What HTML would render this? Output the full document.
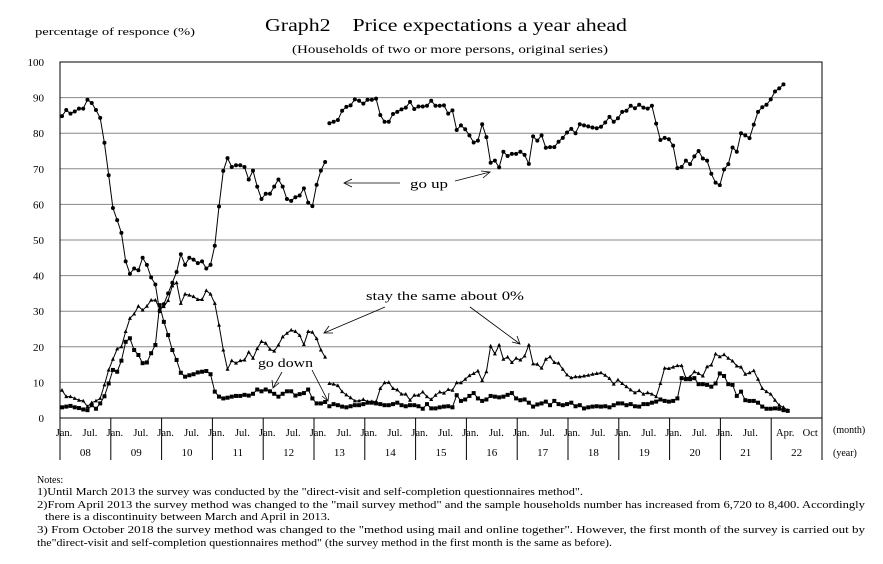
<!DOCTYPE html>
<html><head><meta charset="utf-8">
<style>
body{margin:0;background:#fff;}
svg text{font-family:"Liberation Serif","Noto Serif CJK SC",serif;fill:#000;}
</style></head>
<body>
<svg id="chart" width="883" height="559" viewBox="0 0 883 559" xmlns="http://www.w3.org/2000/svg">
<text x="265" y="31" font-size="18" textLength="362" lengthAdjust="spacingAndGlyphs">Graph2　Price expectations a year ahead</text>
<text x="292" y="53" font-size="11.5" textLength="316" lengthAdjust="spacingAndGlyphs">(Households of two or more persons, original series)</text>
<text x="35" y="35" font-size="11" textLength="160" lengthAdjust="spacingAndGlyphs">percentage of responce (%)</text>
<g id="grid"></g>
<g id="yticks"></g>
<g id="series"></g>
<rect x="60" y="62" width="762" height="356" fill="none" stroke="#000" stroke-width="1"/>
<g id="xaxis"></g>
<text x="833" y="433" font-size="10">(month)</text>
<text x="833" y="456" font-size="10">(year)</text>
<g font-size="13">
<text x="410" y="188" textLength="38" lengthAdjust="spacingAndGlyphs">go up</text>
<line x1="400" y1="183" x2="344" y2="183" stroke="#000" stroke-width="0.8"/>
<polyline points="352,179 344,183 352,187" fill="none" stroke="#000" stroke-width="0.8"/>
<line x1="455" y1="181" x2="490" y2="172" stroke="#000" stroke-width="0.8"/>
<polyline points="481,171 490,172 483,178" fill="none" stroke="#000" stroke-width="0.8"/>
<text x="366" y="300" textLength="158" lengthAdjust="spacingAndGlyphs">stay the same about 0%</text>
<line x1="385" y1="307" x2="324" y2="333" stroke="#000" stroke-width="0.8"/>
<polyline points="329,326 324,333 333,333" fill="none" stroke="#000" stroke-width="0.8"/>
<line x1="470" y1="307" x2="520" y2="344" stroke="#000" stroke-width="0.8"/>
<polyline points="512,342 520,344 517,336" fill="none" stroke="#000" stroke-width="0.8"/>
<text x="258" y="367" textLength="55" lengthAdjust="spacingAndGlyphs">go down</text>
<line x1="282" y1="372" x2="273" y2="388" stroke="#000" stroke-width="0.8"/>
<polyline points="272,380 273,388 279,383" fill="none" stroke="#000" stroke-width="0.8"/>
<line x1="312" y1="370" x2="328" y2="401" stroke="#000" stroke-width="0.8"/>
<polyline points="322,396 328,401 329,393" fill="none" stroke="#000" stroke-width="0.8"/>
</g>
<g font-size="10">
<text x="37" y="483">Notes:</text>
<text x="37" y="495" textLength="546" lengthAdjust="spacingAndGlyphs">1)Until March 2013 the survey was conducted by the "direct-visit and self-completion questionnaires method".</text>
<text x="37" y="508" textLength="828" lengthAdjust="spacingAndGlyphs">2)From April 2013 the survey method was changed to the "mail survey method" and the sample households number has increased from 6,720 to 8,400. Accordingly</text>
<text x="45" y="520" textLength="285" lengthAdjust="spacingAndGlyphs">there is a discontinuity between March and April in 2013.</text>
<text x="37" y="533" textLength="828" lengthAdjust="spacingAndGlyphs">3) From October 2018 the survey method was changed to the "method using mail and online together". However, the first month of the survey is carried out by</text>
<text x="37" y="546" textLength="575" lengthAdjust="spacingAndGlyphs">the"direct-visit and self-completion questionnaires method" (the survey method in the first month is the same as before).</text>
</g>
</svg>
<script>
const yTicks=[0,10,20,30,40,50,60,70,80,90,100];
const years=["08","09","10","11","12","13","14","15","16","17","18","19","20","21","22"];
const goUp=[84.8,86.5,85.5,86.1,86.9,86.9,89.4,88.5,86.5,84.3,77.3,68.2,
59,55.6,52,44,40.5,42,41.5,45,43,39.5,37.5,30,32,35,38,41,
46,43,45,44.5,43.5,44,42,43,48.4,59.4,69.4,73,
70.5,71,71,70.5,67,69.5,65,61.5,63,63,65,67,65,61.5,61,62,62.5,64.5,60.5,59.5,65.5,69.5,71.9,
82.8,83.2,83.7,86.3,87.4,87.8,89.5,89.1,88.3,89.4,89.4,89.7,85.1,83.2,83.2,85.4,86,86.7,87.2,88.8,86.8,87.5,87.5,87.7,89.1,87.7,87.7,87.8,85.5,86.4,80.9,82.2,81.1,79.4,77.4,77.9,82.5,78.9,71.7,72.3,70.4,74.8,73.6,74.2,74.2,74.8,73.9,71.4,79.1,77.9,79.4,75.9,76.1,76.1,77.6,78.7,80.2,81.2,80,
82.5,82.2,81.9,81.6,81.4,81.8,83,84.6,83.2,84.2,86,86.3,87.7,87,88,87.2,86.9,87.7,82.7,78.1,78.7,78.3,76.5,70.2,70.5,72.3,71.3,73.5,75,72.9,72.3,68.6,66.1,65.4,69.8,71.3,76,74.8,80,79.4,78.6,82.4,86,87.3,88,89.5,91.7,92.6,93.7];
const staySame=[7.8,6,6,5.5,5,4.8,3.2,4.3,4.8,5.5,9.3,13.5,16.5,19.4,20,24.3,28,29.2,31.4,30.3,31.4,33.1,33.1,30.8,31.3,33,37.1,38,32.2,34.8,34.5,34.1,33.3,33.3,35.8,34.8,32.2,26.1,19.1,13.7,16.1,15.4,16.1,16.3,18.5,16.8,19.5,21.5,21,19.3,18.8,20.5,22.8,23.8,24.7,24.3,23.2,20.6,24.3,24.1,22.3,19.1,17.1,
9.7,9.5,9.1,7.4,6.5,5.7,4.8,4.8,5.2,4.6,4.6,4.6,8.3,9.9,10,8.3,7.9,6.7,6.7,5,6.4,6.4,7.3,6,5.2,6.4,7.3,7,8,7.8,9.9,9.9,10.9,11.9,12.5,13.2,10.5,13,20.2,18,20.5,16.5,17.1,15.6,16.8,16.3,17.4,20.5,15.2,15.1,14,16.5,17.2,15.6,15.4,13.7,12.1,11.3,11.6,
11.6,11.8,12,12.3,12.5,12.7,12,11.1,9.5,10.7,9.7,8.8,7.9,7.1,7.7,6.7,7.1,6.7,6,9.7,14,13.9,14.3,14.7,14.7,11.2,11.6,13,12.5,11.8,14.4,14.9,18,17.2,17.8,16.8,16,14.6,14.3,12.3,12.7,13.3,10.9,8.3,7.4,6.7,5,3.6,3,2.2];
const goDown=[3,3.2,3.4,3,2.8,2.4,2.2,3.6,2.6,4.1,6.1,9.7,13.5,13,16.1,21.4,22.4,19.1,17.7,15.4,15.6,18.2,20.5,31.7,27,23.3,19.1,16.3,12.7,11.6,12,12.3,12.8,13,13.2,12.3,7.4,6,5.5,5.7,6,6.2,6.2,6.5,6.3,6.8,8,7.5,8,7.5,6.8,6,6.8,7.5,7.5,6.3,6.7,7,8,5.5,4.1,4.1,4.5,
3.3,3.9,3.6,3.2,3.0,3.3,3.6,3.6,3.9,4.3,4.3,4.1,3.9,3.6,3.6,3.9,4.3,3.6,3.3,3.6,3.6,3.3,2.6,3.9,2.7,2.7,3.0,3.2,3.3,3.0,6.4,4.8,5.2,6.2,7.0,5.5,4.8,5.2,6.2,6.0,5.8,6.0,6.5,7.0,5.5,5.0,5.2,4.3,3.2,3.8,4.1,4.6,3.6,4.8,3.9,3.6,3.9,4.3,3.3,
3.6,2.7,3,3.2,3.3,3.2,3.3,3,3.6,4.1,4.1,3.6,3.9,3.3,3.2,3.9,3.9,4.3,4.6,5.2,4.8,4.6,4.8,5.5,11.2,10.9,10.9,11.2,9.5,9.5,9.3,8.8,9.7,12.5,11.8,9.5,9.3,6.2,7.4,5,4.8,4.8,4.3,3.2,2.6,2.6,2.7,2.6,2.2,2.0];
const breakIndex=63; // April 2013 discontinuity

const NS="http://www.w3.org/2000/svg";
function xs(i){return 62+i*4.244;}
function ys(v){return 418-v*3.56;}
function mk(tag,attrs,parent){const e=document.createElementNS(NS,tag);for(const k in attrs)e.setAttribute(k,attrs[k]);parent.appendChild(e);return e;}

const grid=document.getElementById('grid'),yt=document.getElementById('yticks');
yTicks.forEach(v=>{
  if(v>0&&v<100){const l=mk('line',{x1:60,x2:822,y1:ys(v),y2:ys(v),stroke:'#888','stroke-width':1},grid);
  
  }
  const t=mk('text',{x:44,y:ys(v)+4,'font-size':11,'text-anchor':'end'},yt);
  t.textContent=v;
  
  
});

const xa=document.getElementById('xaxis');
years.forEach((y,k)=>{
  const x0=60+k*50.8;
  const sep=mk('line',{x1:x0,x2:x0,y1:418,y2:460,stroke:'#000','stroke-width':1},xa);
  
  
  const yl=mk('text',{x:x0+25.4,y:456,'font-size':11,'text-anchor':'middle'},xa);
  yl.textContent=y;
  
  
  const labels=(y==="22")?[["Apr.",x0+14],["Oct",x0+39]]:[["Jan.",x0+4],["Jul.",x0+30]];
  labels.forEach(([s,x])=>{
    const m=mk('text',{x:x,y:436,'font-size':10.5,'text-anchor':'middle'},xa);
    m.textContent=s;
    
    
  });
});
const edge=mk('line',{x1:822,x2:822,y1:418,y2:460,stroke:'#000','stroke-width':1},xa);



const sg=document.getElementById('series');
function drawSeries(vals,name,marker){
  const g=mk('g',{},sg);
  
  
  [[0,breakIndex],[breakIndex,vals.length]].forEach(([a,b])=>{
    const pts=[];for(let i=a;i<b;i++)pts.push(xs(i).toFixed(1)+','+ys(vals[i]).toFixed(1));
    const pl=mk('polyline',{points:pts.join(' '),fill:'none',stroke:'#000','stroke-width':1},g);
    
    
  });
  vals.forEach((v,i)=>{
    const x=xs(i),y=ys(v);let e;
    if(marker==='circle')e=mk('circle',{cx:x,cy:y,r:2,fill:'#000'},g);
    else if(marker==='square')e=mk('rect',{x:x-2,y:y-2,width:4,height:4,fill:'#000'},g);
    else e=mk('polygon',{points:`${x},${y-2.2} ${x-2},${y+1.5} ${x+2},${y+1.5}`,fill:'#000'},g);
    
    
  });
}
drawSeries(staySame,'stay-same','triangle');
drawSeries(goDown,'go-down','square');
drawSeries(goUp,'go-up','circle');
</script>
</body></html>
